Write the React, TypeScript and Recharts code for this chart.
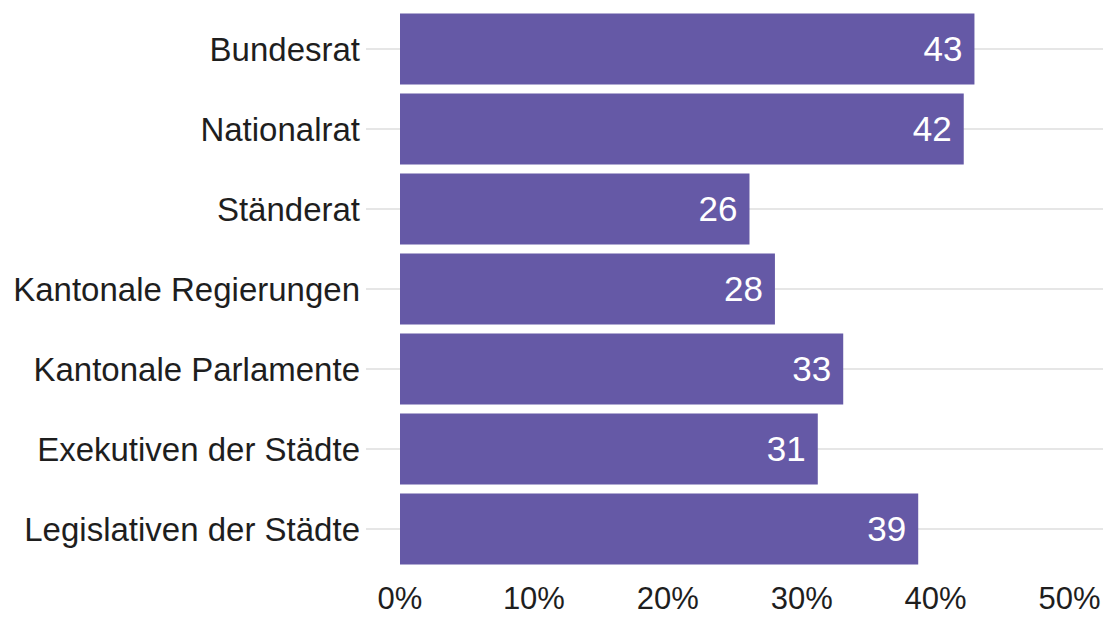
import { BarChart, Bar, XAxis, YAxis, CartesianGrid, LabelList } from "recharts";

const gremien = [
  "Bundesrat",
  "Nationalrat",
  "Ständerat",
  "Kantonale Regierungen",
  "Kantonale Parlamente",
  "Exekutiven der Städte",
  "Legislativen der Städte",
];
const frauenanteil = [42.9, 42.1, 26.1, 28.0, 33.1, 31.2, 38.7];
const xTicks = [0, 10, 20, 30, 40, 50];

const data = gremien.map((name, i) => ({ name, value: frauenanteil[i] }));

const textColor = "#1e1e1e";
const gridColor = "#dedede";
const font = "Liberation Sans, Arial, sans-serif";

export default function App() {
  return (
    <div style={{ position: "absolute", left: 0, top: 0, background: "#fff" }}>
      <BarChart
        width={1104}
        height={617}
        data={data}
        layout="vertical"
        margin={{ top: 9, right: 1, bottom: 0, left: 0 }}
        barCategoryGap="5.6%"
      >
        <CartesianGrid horizontal vertical={false} syncWithTicks stroke={gridColor} strokeWidth={1.5} />
        <XAxis
          type="number"
          domain={[0, 52.5]}
          ticks={xTicks}
          tickFormatter={(v: number) => `${v}%`}
          axisLine={false}
          tickLine={false}
          tickSize={0}
          tickMargin={18}
          height={48}
          tick={{ fill: textColor, fontSize: 31, fontFamily: font }}
          interval={0}
        />
        <YAxis
          type="category"
          dataKey="name"
          width={400}
          axisLine={false}
          tickSize={34}
          tickMargin={6}
          tickLine={{ stroke: gridColor, strokeWidth: 1.5 }}
          tick={{ fill: textColor, fontSize: 33, fontFamily: font }}
          interval={0}
        />
        <Bar dataKey="value" fill="#6559a6" isAnimationActive={false}>
          <LabelList
            dataKey="value"
            position="insideRight"
            offset={12}
            formatter={(v: number) => Math.round(v)}
            fill="#ffffff"
            fontSize={35}
            fontFamily={font}
          />
        </Bar>
      </BarChart>
    </div>
  );
}
